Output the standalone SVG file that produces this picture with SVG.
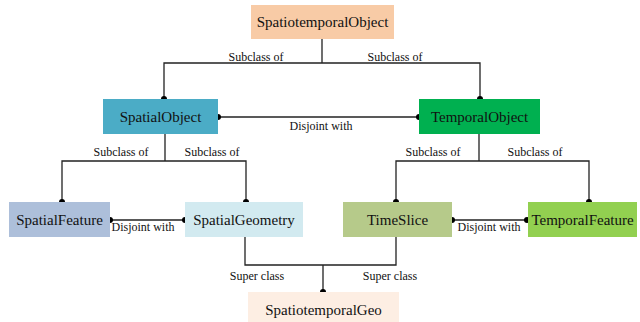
<svg xmlns="http://www.w3.org/2000/svg" width="640" height="322" viewBox="0 0 640 322" font-family="'Liberation Serif', 'Times New Roman', Times, serif">
  <style>
    text { font-family: "Liberation Serif", "Times New Roman", Times, serif; fill: #111; text-anchor: middle; }
    .node text { font-size: 15px; }
    .lbl { font-size: 12px; }
    .edge { fill: none; stroke: #222; stroke-width: 1.3; }
    .dot { fill: #000; }
  </style>
  <rect width="640" height="322" fill="#fff"/>

  <!-- connectors -->
  <g id="connectors">
    <!-- SpatiotemporalObject to its two subclasses -->
    <path class="edge" d="M322 39 V63 M164 99 V63 H480 V99"/>
    <circle class="dot" cx="164" cy="99" r="3"/>
    <circle class="dot" cx="480" cy="99" r="3"/>
    <text class="lbl" x="256" y="61">Subclass of</text>
    <text class="lbl" x="395" y="61">Subclass of</text>

    <!-- SpatialObject / TemporalObject disjoint -->
    <path class="edge" d="M218 117 H419"/>
    <circle class="dot" cx="218" cy="117" r="3"/>
    <circle class="dot" cx="419" cy="117" r="3"/>
    <text class="lbl" x="321" y="130">Disjoint with</text>

    <!-- SpatialObject subclasses -->
    <path class="edge" d="M165 134 V161 M62 202 V161 H246 V202"/>
    <circle class="dot" cx="62" cy="202" r="3"/>
    <circle class="dot" cx="246" cy="202" r="3"/>
    <text class="lbl" x="121" y="156">Subclass of</text>
    <text class="lbl" x="212" y="156">Subclass of</text>

    <!-- TemporalObject subclasses -->
    <path class="edge" d="M479 134 V161 M396 202 V161 H589 V202"/>
    <circle class="dot" cx="396" cy="202" r="3"/>
    <circle class="dot" cx="589" cy="202" r="3"/>
    <text class="lbl" x="433" y="156">Subclass of</text>
    <text class="lbl" x="535" y="156">Subclass of</text>

    <!-- SpatialFeature / SpatialGeometry disjoint -->
    <path class="edge" d="M110 220 H185"/>
    <circle class="dot" cx="110" cy="220" r="3"/>
    <circle class="dot" cx="185" cy="220" r="3"/>
    <text class="lbl" x="143" y="231">Disjoint with</text>

    <!-- TimeSlice / TemporalFeature disjoint -->
    <path class="edge" d="M452 220 H527"/>
    <circle class="dot" cx="452" cy="220" r="3"/>
    <circle class="dot" cx="527" cy="220" r="3"/>
    <text class="lbl" x="489" y="231">Disjoint with</text>

    <!-- super classes of SpatiotemporalGeo -->
    <path class="edge" d="M245 237 V265 H396 V237 M323 265 V292"/>
    <circle class="dot" cx="323" cy="292" r="3"/>
    <text class="lbl" x="257" y="280">Super class</text>
    <text class="lbl" x="390" y="280">Super class</text>
  </g>

  <!-- nodes -->
  <g id="SpatiotemporalObject" class="node">
    <rect x="251" y="5" width="143" height="34" fill="#F8CBA6"/>
    <text x="322.5" y="27">SpatiotemporalObject</text>
  </g>
  <g id="SpatialObject" class="node">
    <rect x="103" y="99" width="115" height="35" fill="#4BACC6"/>
    <text x="160.5" y="122">SpatialObject</text>
  </g>
  <g id="TemporalObject" class="node">
    <rect x="419" y="99" width="121" height="35" fill="#00B050"/>
    <text x="479.5" y="122">TemporalObject</text>
  </g>
  <g id="SpatialFeature" class="node">
    <rect x="9" y="202" width="101" height="35" fill="#ADBFDA"/>
    <text x="59.5" y="225">SpatialFeature</text>
  </g>
  <g id="SpatialGeometry" class="node">
    <rect x="185" y="202" width="118" height="35" fill="#D2EAF0"/>
    <text x="244" y="225">SpatialGeometry</text>
  </g>
  <g id="TimeSlice" class="node">
    <rect x="343" y="202" width="109" height="35" fill="#B6CA8A"/>
    <text x="397.5" y="225">TimeSlice</text>
  </g>
  <g id="TemporalFeature" class="node">
    <rect x="528" y="202" width="109" height="35" fill="#92D050"/>
    <text x="582.5" y="225">TemporalFeature</text>
  </g>
  <g id="SpatiotemporalGeo" class="node">
    <rect x="248" y="292" width="151" height="30" fill="#FDEEE3"/>
    <text x="323.5" y="315">SpatiotemporalGeo</text>
  </g>
</svg>
